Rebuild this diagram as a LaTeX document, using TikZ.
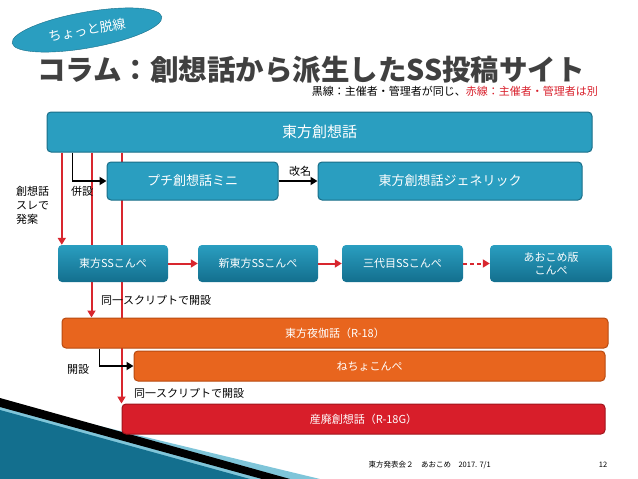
\documentclass[tikz,border=0pt]{standalone}
\usepackage{fontspec}
\setmainfont{Noto Sans CJK JP}
\usetikzlibrary{shapes.geometric,arrows.meta,backgrounds}
\definecolor{tealA}{HTML}{2A9EC0}
\definecolor{tealB}{HTML}{136F8E}
\definecolor{tealD}{HTML}{1A6E88}
\definecolor{orgF}{HTML}{E8651E}
\definecolor{orgD}{HTML}{B84A10}
\definecolor{redF}{HTML}{D81E2A}
\definecolor{redD}{HTML}{A0141C}
\definecolor{redL}{HTML}{D8262E}
\tikzset{
  bigbox/.style={draw=tealD,line width=1pt,fill=tealA,rounded corners=4pt,text=white,font=\fontsize{15}{18}\selectfont},
  smallbox/.style={draw=none,top color=tealA,bottom color=tealB,rounded corners=4pt,text=white,font=\fontsize{11}{13}\selectfont,align=center},
  obox/.style={draw=orgD,line width=1pt,fill=orgF,rounded corners=4pt,text=white,font=\fontsize{11}{13}\selectfont},
  rbox/.style={draw=redD,line width=1pt,fill=redF,rounded corners=4pt,text=white,font=\fontsize{11}{13}\selectfont},
  redln/.style={draw=redL,line width=2pt,-{Triangle[length=7pt,width=8pt]}},
  blkln/.style={draw=black,line width=1.8pt,-{Triangle[length=7pt,width=8pt]}},
  lbl/.style={font=\fontsize{11}{13}\selectfont,inner sep=1pt}
}
\begin{document}
\begin{tikzpicture}[x=1pt,y=-1pt]
\useasboundingbox (0,0) rectangle (638,479);
% decoration bottom-left
\fill[tealA!60] (0,402) -- (320,479) -- (0,479) -- cycle;
\fill[tealB] (0,410) -- (250,479) -- (0,479) -- cycle;
\fill[black] (0,398) -- (290,479) -- (262,479) -- (0,407) -- cycle;
% oval
\node[ellipse,fill=tealA,draw=tealD,minimum width=152,minimum height=36,rotate=10,text=white,font=\fontsize{13}{15}\selectfont] (oval) at (87,30) {ちょっと脱線};
% title
\node[font=\bfseries\fontsize{28.5}{30}\selectfont,text=black!75] (title) at (311,70) {コラム：創想話から派生したSS投稿サイト};
\node[anchor=east,font=\fontsize{11}{13}\selectfont,inner sep=0] (sub) at (598,91) {黒線：主催者・管理者が同じ、\textcolor{redF}{赤線：主催者・管理者は別}};
% boxes
\node[bigbox,minimum width=545,minimum height=40] (top) at (319.5,132) {東方創想話};
\node[bigbox,minimum width=171,minimum height=38,font=\fontsize{13}{15}\selectfont] (puchi) at (192.5,181) {プチ創想話ミニ};
\node[bigbox,minimum width=264,minimum height=38,font=\fontsize{13}{15}\selectfont] (gen) at (450,181) {東方創想話ジェネリック};
\node[smallbox,minimum width=110,minimum height=37] (c1) at (113,263.5) {東方SSこんぺ};
\node[smallbox,minimum width=120,minimum height=37] (c2) at (258,263.5) {新東方SSこんぺ};
\node[smallbox,minimum width=121,minimum height=37] (c3) at (402.5,263.5) {三代目SSこんぺ};
\node[smallbox,minimum width=122,minimum height=37] (c4) at (551,263.5) {あおこめ版\\こんぺ};
\node[obox,minimum width=546,minimum height=30] (yo) at (335,333) {東方夜伽話（R-18）};
\node[obox,minimum width=471,minimum height=30] (ne) at (369.5,366) {ねちょこんぺ};
\node[rbox,minimum width=483,minimum height=30] (san) at (363.5,419) {産廃創想話（R-18G）};
% red vertical lines, behind boxes
\begin{scope}[on background layer]
\draw[redln] (top.south west -| c1.north west) ++(4,0) coordinate (r1) -- (r1 |- c1.north);
\coordinate (r2) at ([xshift=45pt]top.south west);
\draw[redln] (r2) -- (r2 |- yo.north);
\coordinate (r3) at ([xshift=75pt]top.south west);
\draw[redln] (r3) -- (r3 |- san.north);
\end{scope}
% black connectors
\coordinate (b1) at ([xshift=26pt]top.south west);
\draw[blkln] (b1) |- (puchi.west);
\draw[blkln] (puchi.east) -- (gen.west);
\node[lbl,anchor=south] (kaimei) at (300,178) {改名};
\coordinate (b2) at ([xshift=38pt]yo.south west);
\draw[blkln] (b2) |- (ne.west);
% red horizontal arrows
\draw[redln] (c1.east) -- (c2.west);
\draw[redln] (c2.east) -- (c3.west);
\draw[redln,dash pattern=on 4pt off 3pt] (c3.east) -- (c4.west);
% labels
\node[lbl,anchor=west] (heisetsu) at (70,191) {併設};
\node[lbl,align=left,anchor=west,font=\fontsize{11}{14}\selectfont] (sou) at (15,205) {創想話\\スレで\\発案};
\node[lbl,anchor=west] (d1) at (100,300) {同一スクリプトで開設};
\node[lbl,anchor=west] (kaisetsu) at (66,369) {開設};
\node[lbl,anchor=west] (d2) at (133,393) {同一スクリプトで開設};
% footer
\node[font=\fontsize{7.5}{9}\selectfont,anchor=west] (foot) at (365,465) {東方発表会２　あおこめ　2017. 7/1};
\node[font=\fontsize{7.5}{9}\selectfont] (pg) at (603,465) {12};
\end{tikzpicture}
\end{document}
